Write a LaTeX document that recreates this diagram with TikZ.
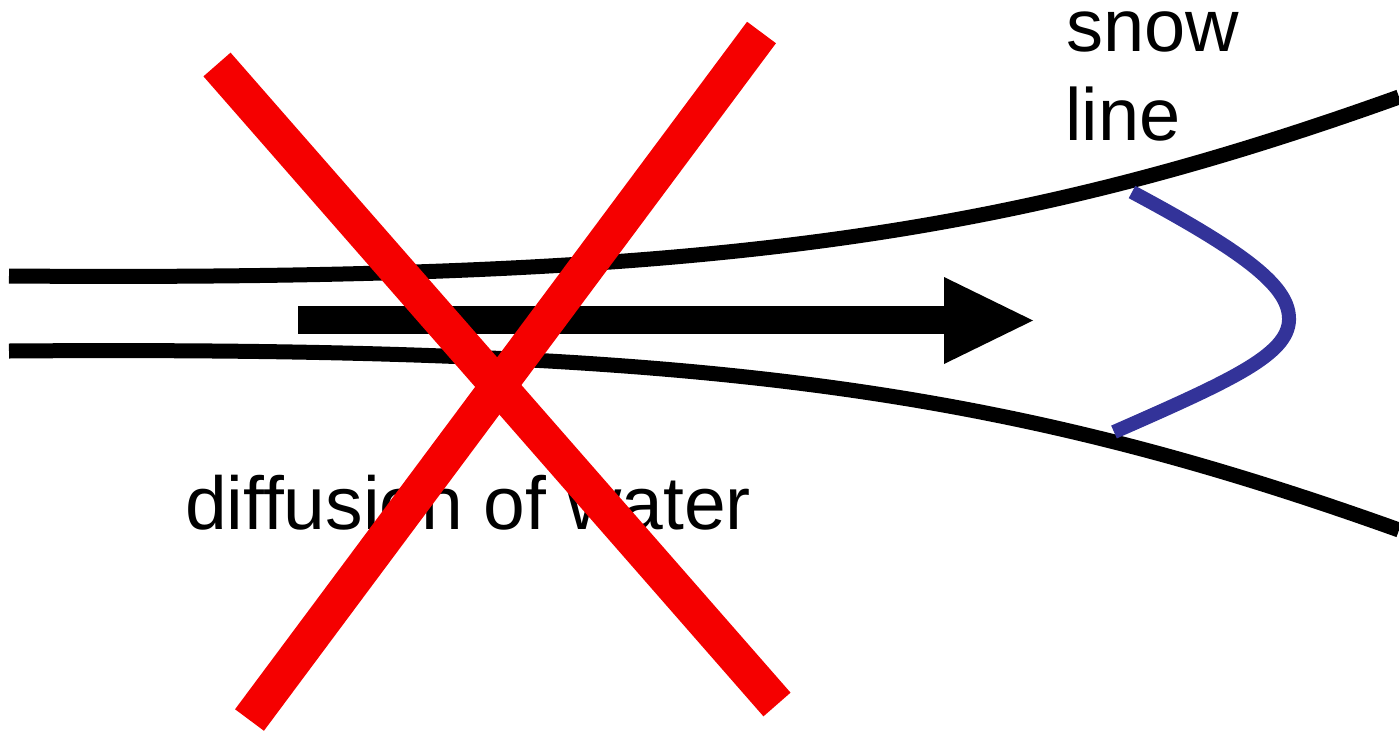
\documentclass[tikz,border=0pt]{standalone}
\usepackage{fontspec}
\setmainfont{Liberation Sans}
\definecolor{xred}{RGB}{245,0,0}
\definecolor{snowblue}{RGB}{51,51,153}
\tikzset{
  flowline/.style={draw=black,line width=15pt},
  snowcurve/.style={draw=snowblue,line width=14pt},
  crossbar/.style={draw=xred,line width=36pt},
  label/.style={inner sep=0pt,font=\fontsize{74}{89}\selectfont,text=black}
}
\begin{document}
\begin{tikzpicture}[x=1pt,y=-1pt]
\useasboundingbox (0,0) rectangle (1399,734);
% disk boundaries
\draw[flowline] (9,276) .. controls (700,281) and (1000,240) .. (1399,97);
\draw[flowline] (9,351) .. controls (700,346) and (1000,387) .. (1399,530);
% thick arrow
\fill[black] (298,306) rectangle (945,334);
\fill[black] (944,277) -- (1033,320.5) -- (944,364) -- cycle;
% snow line
\draw[snowcurve] (1132,192) .. controls (1250,255) and (1290,288) .. (1289,320)
  .. controls (1288,355) and (1230,381) .. (1114,432);
% labels
\node[label,anchor=base west] (snow) at (1066,51) {snow};
\node[label,anchor=base west] (line) at (1065,140) {line};
\node[label,anchor=base west,font=\fontsize{75}{89}\selectfont] (diff) at (185,529) {diffusion of water};
% red cross
\draw[crossbar] (217,64.5) -- (777,704.5);
\draw[crossbar] (761.5,32.5) -- (249.5,720);
\end{tikzpicture}
\end{document}
